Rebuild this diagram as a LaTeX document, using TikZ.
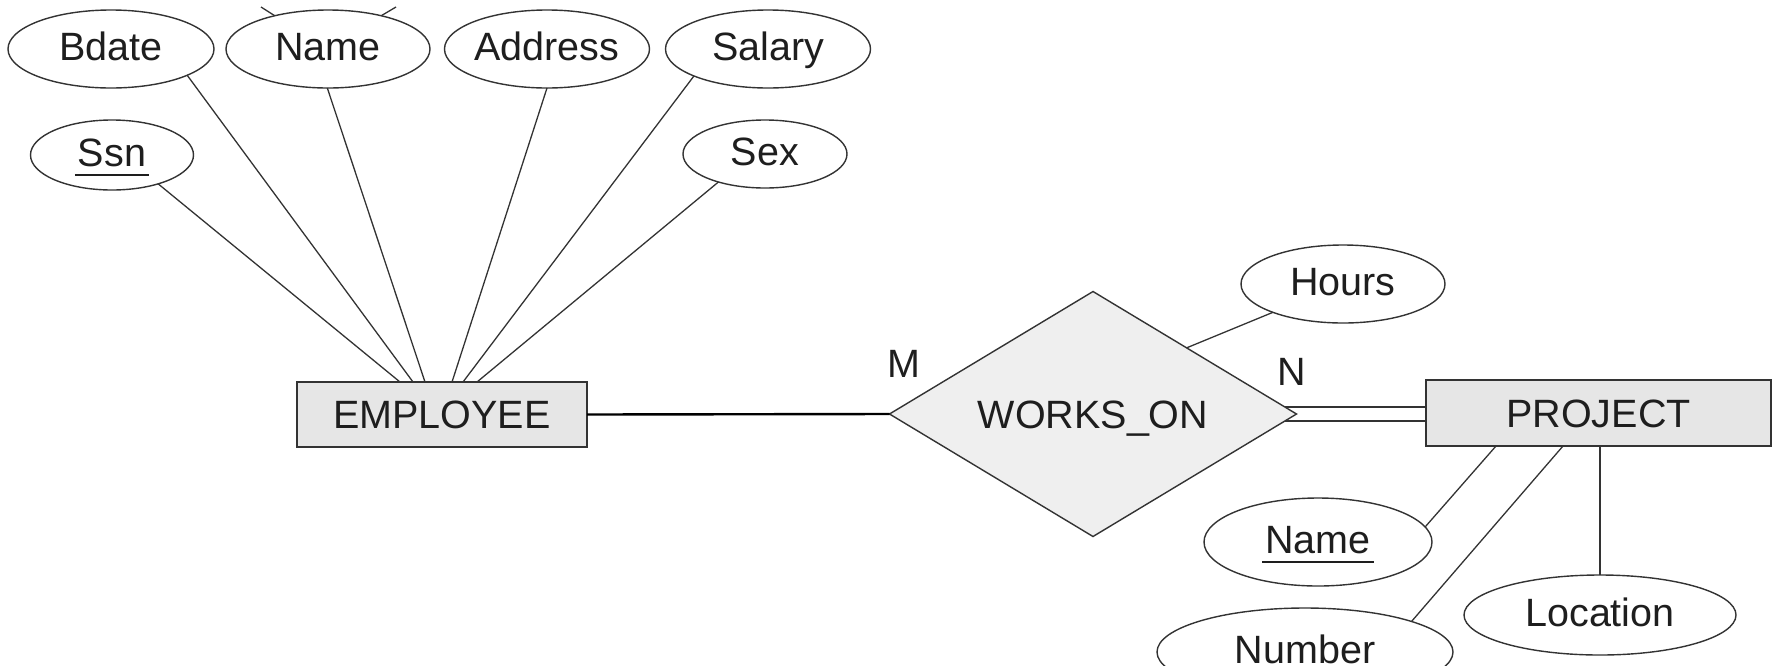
\documentclass[tikz,border=0pt]{standalone}
\usepackage{fontspec}
\setmainfont{Liberation Sans}
\usetikzlibrary{shapes.geometric,calc}
\definecolor{entfill}{HTML}{E6E6E6}
\definecolor{relfill}{HTML}{EFEFEF}
\definecolor{ink}{HTML}{1E1E1E}
\definecolor{strokecol}{HTML}{333333}
\newcommand\keyu[1]{\setbox0\hbox{#1}\rlap{\kern-3pt\vrule width\dimexpr\wd0+6pt\relax height -7.5pt depth 10pt}#1}
\begin{document}
\begin{tikzpicture}[x=1pt,y=-1pt,
  every node/.style={font=\fontsize{39.5}{40}\selectfont, text=ink},
  attr/.style={ellipse, draw=strokecol, line width=1.4pt, fill=white, inner sep=0pt, outer sep=0pt, text height=28pt, text depth=6pt},
  entity/.style={rectangle, draw=strokecol, line width=1.6pt, fill=entfill, inner sep=0pt, outer sep=0pt, text height=28pt, text depth=0pt},
  relation/.style={diamond, shape aspect=1.66, draw=strokecol, line width=1.4pt, fill=relfill, inner sep=0pt, outer sep=0pt, minimum width=407pt, minimum height=245pt, text height=28pt, text depth=0pt},
  card/.style={inner sep=0pt, text height=28pt, text depth=0pt},
  link/.style={draw=strokecol, line width=1.3pt},
  mainlink/.style={draw=black, line width=2.4pt}
]
\useasboundingbox (0,0) rectangle (1772,665);

% EMPLOYEE attributes
\node[attr, minimum width=206pt, minimum height=78pt] (bdate) at (111,49) {Bdate};
\node[attr, minimum width=204pt, minimum height=78pt] (ename) at (328,49) {Name};
\node[attr, minimum width=205pt, minimum height=78pt] (address) at (547,49) {Address};
\node[attr, minimum width=205pt, minimum height=78pt] (salary) at (768,49) {Salary};
\node[attr, minimum width=163pt, minimum height=70pt] (ssn) at (112,155) {\keyu{Ssn}};
\node[attr, minimum width=164pt, minimum height=68pt] (sex) at (765,154) {Sex};

% entities and relationship
\node[entity, minimum width=290pt, minimum height=65pt] (emp) at (442,414.5) {EMPLOYEE};
\node[relation] (wo) at (1093,414) {WORKS\_ON};
\node[entity, minimum width=345pt, minimum height=66pt] (proj) at (1598.5,413) {PROJECT};

% relationship / project attributes
\node[attr, minimum width=204pt, minimum height=78pt] (hours) at (1343,284) {Hours};
\node[attr, minimum width=228pt, minimum height=88pt] (pname) at (1318,542) {\keyu{Name}};
\node[attr, minimum width=296pt, minimum height=88pt] (number) at (1305,652) {Number};
\node[attr, minimum width=272pt, minimum height=80pt] (loc) at (1600,615) {Location};

% cardinalities
\node[card] (m) at (904,363) {M};
\node[card] (n) at (1292,371) {N};

% attachment points
\coordinate (e1) at ($(emp.north west)+(103,0)$);
\coordinate (e2) at ($(emp.north west)+(116,0)$);
\coordinate (e3) at ($(emp.north west)+(128,0)$);
\coordinate (e4) at ($(emp.north west)+(155,0)$);
\coordinate (e5) at ($(emp.north west)+(166,0)$);
\coordinate (e6) at ($(emp.north west)+(180,0)$);
\coordinate (p1) at ($(proj.south west)+(70,0)$);
\coordinate (p2) at ($(proj.south west)+(137,0)$);
\coordinate (p3) at ($(proj.south west)+(174,0)$);
\coordinate (hw) at ($(wo.north)!0.46!(wo.east)$);
\coordinate (d1) at ($(wo.east)+(-11.6,-7)$);
\coordinate (d2) at ($(wo.east)+(-11.6,7)$);
\coordinate (q1) at (proj.west |- d1);
\coordinate (q2) at (proj.west |- d2);
\coordinate (s1) at (261,7);
\coordinate (s2) at (396,7);

% connectors
\draw[link] (ssn.-32) -- (e1);
\draw[link] (bdate.-19) -- (e2);
\draw[link] (ename.-91) -- (e3);
\draw[link] (address.-90) -- (e4);
\draw[link] (salary.-160) -- (e5);
\draw[link] (sex.-149) -- (e6);
\draw[link] (ename.148) -- (s1);
\draw[link] (ename.32) -- (s2);
\draw[mainlink] (emp.east) -- (wo.west);
\draw[link] (d1) -- (q1);
\draw[link] (d2) -- (q2);
\draw[link] (hours.-158) -- (hw);
\draw[link] (pname.8) -- (p1);
\draw[link] (number.16) -- (p2);
\draw[link] (loc.north) -- (p3);
\end{tikzpicture}
\end{document}
